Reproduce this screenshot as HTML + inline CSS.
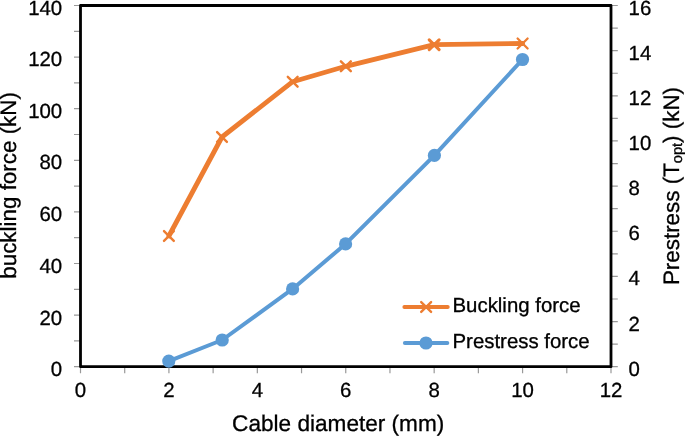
<!DOCTYPE html>
<html><head><meta charset="utf-8"><title>Buckling force vs cable diameter</title>
<style>svg,svg text,svg tspan{font-family:"Liberation Sans",Arial,sans-serif;text-rendering:geometricPrecision}html,body{margin:0;padding:0;background:#fff;width:685px;height:436px;overflow:hidden;position:relative}</style>
</head><body>
<svg width="685" height="436" viewBox="0 0 685 436" style="position:absolute;left:0;top:0">
<path d="M74,366.70H80 M74,340.90H80 M74,315.10H80 M74,289.30H80 M74,263.50H80 M74,237.70H80 M74,211.90H80 M74,186.10H80 M74,160.30H80 M74,134.50H80 M74,108.70H80 M74,82.90H80 M74,57.10H80 M74,31.30H80 M74,5.50H80 M611,366.70H617.8 M611,344.12H617.8 M611,321.55H617.8 M611,298.98H617.8 M611,276.40H617.8 M611,253.82H617.8 M611,231.25H617.8 M611,208.67H617.8 M611,186.10H617.8 M611,163.53H617.8 M611,140.95H617.8 M611,118.38H617.8 M611,95.80H617.8 M611,73.23H617.8 M611,50.65H617.8 M611,28.07H617.8 M611,5.50H617.8 M80.50,366H80.50V373.3 M124.71,366H124.71V373.3 M168.92,366H168.92V373.3 M213.12,366H213.12V373.3 M257.33,366H257.33V373.3 M301.54,366H301.54V373.3 M345.75,366H345.75V373.3 M389.96,366H389.96V373.3 M434.17,366H434.17V373.3 M478.38,366H478.38V373.3 M522.58,366H522.58V373.3 M566.79,366H566.79V373.3 M611.00,366H611.00V373.3" stroke="#999999" stroke-width="1.2" fill="none"/>
<rect x="80.5" y="5.5" width="530.5" height="361.2" fill="none" stroke="#000" stroke-width="2.8" stroke-linejoin="round"/>
<g font-size="20.4" fill="#000" stroke="#000" stroke-width="0.3"><text transform="translate(62.2,376.26)" text-anchor="end">0</text><text transform="translate(62.2,324.66)" text-anchor="end">20</text><text transform="translate(62.2,272.56)" text-anchor="end">40</text><text transform="translate(62.2,221.06)" text-anchor="end">60</text><text transform="translate(62.2,169.26)" text-anchor="end">80</text><text transform="translate(62.2,117.76)" text-anchor="end">100</text><text transform="translate(62.2,66.01)" text-anchor="end">120</text><text transform="translate(62.2,14.61)" text-anchor="end">140</text><text transform="translate(628.6,376.00)">0</text><text transform="translate(628.6,330.89)">2</text><text transform="translate(628.6,285.20)">4</text><text transform="translate(628.6,240.44)">6</text><text transform="translate(628.6,195.31)">8</text><text transform="translate(628.6,150.20)">10</text><text transform="translate(628.6,104.86)">12</text><text transform="translate(628.6,59.86)">14</text><text transform="translate(628.6,14.60)">16</text><text transform="translate(80.50,397.3)" text-anchor="middle">0</text><text transform="translate(168.92,397.3)" text-anchor="middle">2</text><text transform="translate(257.33,397.3)" text-anchor="middle">4</text><text transform="translate(345.75,397.3)" text-anchor="middle">6</text><text transform="translate(434.17,397.3)" text-anchor="middle">8</text><text transform="translate(522.58,397.3)" text-anchor="middle">10</text><text transform="translate(611.00,397.3)" text-anchor="middle">12</text></g>
<g font-size="22.6" fill="#000" stroke="#000" stroke-width="0.3">
<text x="338.2" y="431" text-anchor="middle">Cable diameter (mm)</text>
<text transform="translate(16.4,185.4) rotate(-90)" text-anchor="middle" font-size="22.4">buckling force (kN)</text>
<text transform="translate(679,186) rotate(-90)" text-anchor="middle" font-size="22.4">Prestress (T<tspan font-size="14.6" dy="2.8">opt</tspan><tspan dy="-2.8">) (kN)</tspan></text>
</g>
<polyline points="168.9,236.0 222.0,137.0 292.7,81.7 345.8,66.3 434.2,44.7 522.6,43.5" fill="none" stroke="#ED7D31" stroke-width="4.8" stroke-linejoin="round" stroke-linecap="round"/>
<path d="M164.0,231.1L173.8,240.9M164.0,240.9L173.8,231.1" stroke="#ED7D31" stroke-width="2.4" stroke-linecap="round" fill="none"/>
<path d="M217.1,132.1L226.9,141.9M217.1,141.9L226.9,132.1" stroke="#ED7D31" stroke-width="2.4" stroke-linecap="round" fill="none"/>
<path d="M287.8,76.8L297.6,86.7M287.8,86.7L297.6,76.8" stroke="#ED7D31" stroke-width="2.4" stroke-linecap="round" fill="none"/>
<path d="M340.9,61.3L350.8,71.2M340.9,71.2L350.8,61.3" stroke="#ED7D31" stroke-width="2.5" stroke-linecap="round" fill="none"/>
<path d="M429.2,39.8L439.1,49.7M429.2,49.7L439.1,39.8" stroke="#ED7D31" stroke-width="3.1" stroke-linecap="round" fill="none"/>
<path d="M517.6,38.5L527.6,48.5M517.6,48.5L527.6,38.5" stroke="#ED7D31" stroke-width="2.3" stroke-linecap="round" fill="none"/>
<polyline points="168.8,361.1 222.2,340.0 292.6,288.9 345.6,243.9 434.4,155.4 522.5,59.5" fill="none" stroke="#5B9BD5" stroke-width="4" stroke-linejoin="round" stroke-linecap="round"/>
<circle cx="168.8" cy="361.1" r="6.6" fill="#5B9BD5"/>
<circle cx="222.2" cy="340.0" r="6.6" fill="#5B9BD5"/>
<circle cx="292.6" cy="288.9" r="6.6" fill="#5B9BD5"/>
<circle cx="345.6" cy="243.9" r="6.6" fill="#5B9BD5"/>
<circle cx="434.4" cy="155.4" r="6.6" fill="#5B9BD5"/>
<circle cx="522.5" cy="59.5" r="6.6" fill="#5B9BD5"/>
<path d="M404.4,307.1H447.7" stroke="#ED7D31" stroke-width="4" stroke-linecap="round"/>
<path d="M421.2,302.1L431.1,311.9M421.2,311.9L431.1,302.1" stroke="#ED7D31" stroke-width="2.4" stroke-linecap="round"/>
<path d="M404.9,343.0H447.3" stroke="#5B9BD5" stroke-width="4" stroke-linecap="round"/>
<circle cx="426" cy="343.0" r="6.6" fill="#5B9BD5"/>
<g font-size="20.4" fill="#000" stroke="#000" stroke-width="0.3"><text x="452.5" y="312.1">Buckling force</text><text x="452.5" y="348.3">Prestress force</text></g>
</svg>
</body></html>
